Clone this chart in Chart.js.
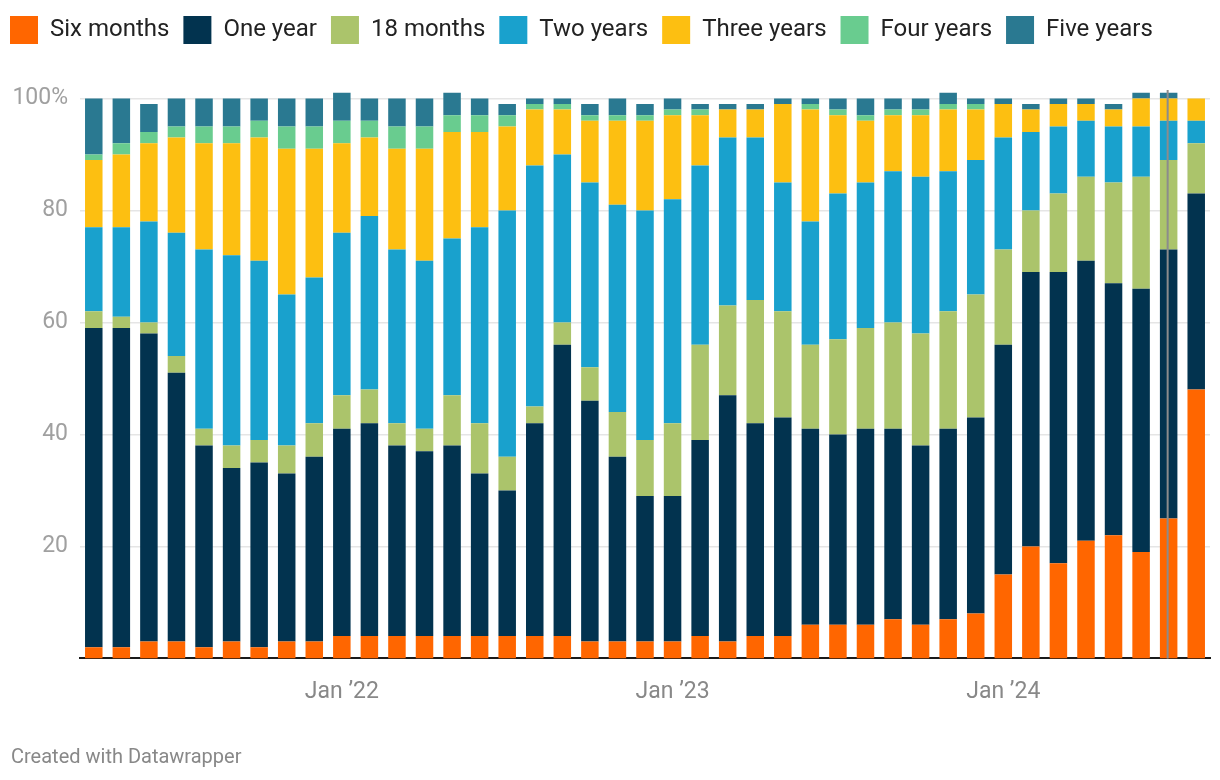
<!DOCTYPE html>
<html>
<head>
<meta charset="utf-8">
<title>Maturity mix</title>
<script src="https://cdn.jsdelivr.net/npm/chart.js"></script>
<style>
  html, body { margin: 0; padding: 0; background: #fff; }
  #wrap { position: relative; width: 1220px; height: 780px; }
  #footer { position: absolute; left: 11px; top: 744px; font: 20px Roboto, sans-serif; color: #888; }
</style>
</head>
<body>
<div id="wrap">
  <canvas id="chart"></canvas>
  <div id="footer">Created with Datawrapper</div>
</div>
<script>
const months = [
  "Apr ’21", "May ’21", "Jun ’21", "Jul ’21", "Aug ’21", "Sep ’21", "Oct ’21", "Nov ’21", "Dec ’21",
  "Jan ’22", "Feb ’22", "Mar ’22", "Apr ’22", "May ’22", "Jun ’22", "Jul ’22", "Aug ’22", "Sep ’22", "Oct ’22", "Nov ’22", "Dec ’22",
  "Jan ’23", "Feb ’23", "Mar ’23", "Apr ’23", "May ’23", "Jun ’23", "Jul ’23", "Aug ’23", "Sep ’23", "Oct ’23", "Nov ’23", "Dec ’23",
  "Jan ’24", "Feb ’24", "Mar ’24", "Apr ’24", "May ’24", "Jun ’24", "Jul ’24", "Aug ’24"
];

const sixMonths = [2,2,3,3,2,3,2,3,3,4,4,4,4,4,4,4,4,4,3,3,3,3,4,3,4,4,6,6,6,7,6,7,8,15,20,17,21,22,19,25,48];
const oneYear = [57,57,55,48,36,31,33,30,33,37,38,34,33,34,29,26,38,52,43,33,26,26,35,44,38,39,35,34,35,34,32,34,35,41,49,52,50,45,47,48,35];
const eighteenMonths = [3,2,2,3,3,4,4,5,6,6,6,4,4,9,9,6,3,4,6,8,10,13,17,16,22,19,15,17,18,19,20,21,22,17,11,14,15,18,20,16,9];
const twoYears = [15,16,18,22,32,34,32,27,26,29,31,31,30,28,35,44,43,30,33,37,41,40,32,30,29,23,22,26,26,27,28,25,24,20,14,12,10,10,9,7,4];
const threeYears = [12,13,14,17,19,20,22,26,23,16,14,18,20,19,17,15,10,8,11,15,16,15,9,5,5,14,20,14,11,10,11,11,9,6,4,4,3,3,5,4,4];
const fourYears = [1,2,2,2,3,3,3,4,4,4,3,4,4,3,3,2,1,1,1,1,1,1,1,0,0,0,1,1,1,1,1,1,1,0,0,0,0,0,0,0,0];
const fiveYears = [10,8,5,5,5,5,4,5,5,5,4,5,5,4,3,2,1,1,2,3,2,2,1,1,1,1,1,2,3,2,2,2,1,1,1,1,1,1,1,1,0];

const yTicks = [20, 40, 60, 80, 100];
const markerMonth = "Jul ’24";

const series = [
  { label: "Six months", data: sixMonths, color: "#ff6600" },
  { label: "One year", data: oneYear, color: "#02334f" },
  { label: "18 months", data: eighteenMonths, color: "#abc46b" },
  { label: "Two years", data: twoYears, color: "#19a1cd" },
  { label: "Three years", data: threeYears, color: "#fdbf11" },
  { label: "Four years", data: fourYears, color: "#69cc8f" },
  { label: "Five years", data: fiveYears, color: "#2a7991" }
];

// grey marker line on one month
const markerLine = {
  id: "markerLine",
  afterDatasetsDraw(chart) {
    const { ctx, chartArea, scales } = chart;
    const x = scales.x.getPixelForValue(months.indexOf(markerMonth)) - 1;
    ctx.save();
    ctx.strokeStyle = "#8c8c8c";
    ctx.lineWidth = 2;
    ctx.beginPath();
    ctx.moveTo(x, chartArea.top);
    ctx.lineTo(x, chartArea.bottom);
    ctx.stroke();
    ctx.restore();
  }
};

// more room under the legend, and pull it to the left edge
const legendSpacing = {
  id: "legendSpacing",
  beforeInit(chart) {
    const fit = chart.legend.fit;
    chart.legend.fit = function () {
      fit.bind(chart.legend)();
      this.height += 36;
    };
  },
  afterLayout(chart) {
    chart.legend.left = -4;
  }
};

new Chart(document.getElementById("chart"), {
  type: "bar",
  data: {
    labels: months,
    datasets: series.map((s) => ({
      label: s.label,
      data: s.data,
      backgroundColor: s.color,
      borderWidth: 0,
      barPercentage: 0.635,
      categoryPercentage: 1
    }))
  },
  options: {
    responsive: true,
    maintainAspectRatio: false,
    animation: false,
    layout: { padding: { left: 0, right: 10, top: 2, bottom: 62 } },
    scales: {
      x: {
        stacked: true,
        grid: { display: false },
        border: { color: "#1a1a1a", width: 2 },
        ticks: {
          autoSkip: false,
          maxRotation: 0,
          padding: 12,
          color: "#888",
          font: { family: "Roboto", size: 23 },
          callback: (v) => (months[v].startsWith("Jan") ? months[v] : "")
        }
      },
      y: {
        stacked: true,
        min: 0,
        max: 101.5,
        afterBuildTicks: (scale) => {
          scale.ticks = yTicks.map((v) => ({ value: v }));
        },
        afterFit: (scale) => {
          scale.width = 80;
        },
        border: { display: false },
        grid: { color: "#e5e5e5", lineWidth: 1.5, drawTicks: false },
        ticks: {
          padding: 12,
          color: "#a0a0a0",
          font: { family: "Roboto", size: 23 },
          callback: (v) => (v === 100 ? "100%" : v)
        }
      }
    },
    plugins: {
      tooltip: { enabled: false },
      legend: {
        position: "top",
        align: "start",
        labels: {
          boxWidth: 28,
          boxHeight: 28,
          padding: 14,
          color: "#222",
          font: { family: "Roboto", size: 24 }
        }
      }
    }
  },
  plugins: [markerLine, legendSpacing]
});
</script>
</body>
</html>
